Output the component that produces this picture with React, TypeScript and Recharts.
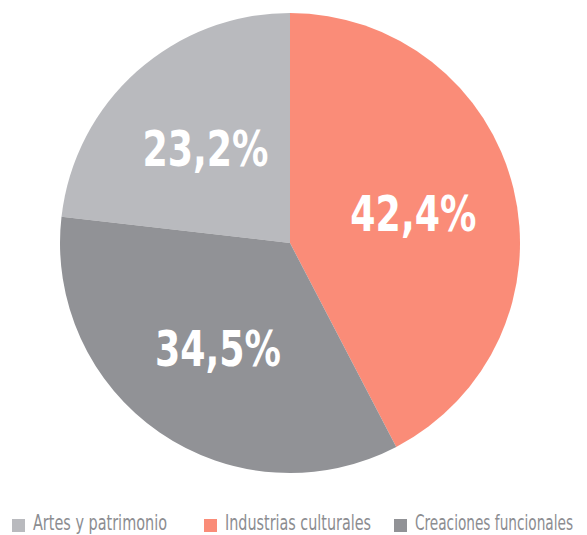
import React from "react";
import { PieChart, Pie, Cell, Legend } from "recharts";

const categories = ["Artes y patrimonio", "Industrias culturales", "Creaciones funcionales"];
const shares = [23.2, 42.4, 34.5];
const colors = ["#B9BABE", "#FA8C78", "#919296"];

const data = categories.map((name, i) => ({ name, value: shares[i] }));
const total = shares.reduce((a, b) => a + b, 0);
const startAngle = 90 + (shares[0] / total) * 360;
const RAD = Math.PI / 180;
const FONT = "'DejaVu Sans Condensed', 'DejaVu Sans', sans-serif";

const renderLabel = (props: any) => {
  const { cx, cy, midAngle, value } = props;
  const r = 127;
  const x = cx + r * Math.cos(-midAngle * RAD);
  const y = cy + r * Math.sin(-midAngle * RAD);
  return (
    <text
      x={x}
      y={y + 18}
      fill="#FFFFFF"
      textAnchor="middle"
      fontFamily={FONT}
      fontWeight="bold"
      fontSize={50}
      textLength={126}
      lengthAdjust="spacingAndGlyphs"
    >
      {value.toFixed(1).replace(".", ",") + "%"}
    </text>
  );
};

const legendX = [12, 204, 394];
const legendW = [134, 146, 158];

const renderLegend = () => (
  <svg width={587} height={30} style={{ display: "block" }}>
    {categories.map((c, i) => (
      <g key={c}>
        <rect x={legendX[i]} y={14} width={13} height={13} fill={colors[i]} />
        <text
          x={legendX[i] + 21}
          y={25}
          fill="#8C8D91"
          fontFamily={FONT}
          fontSize={22}
          textLength={legendW[i]}
          lengthAdjust="spacingAndGlyphs"
        >
          {c}
        </text>
      </g>
    ))}
  </svg>
);

export default function App() {
  return (
    <div style={{ position: "absolute", left: 0, top: 0, width: 587, height: 535, background: "#fff" }}>
      <PieChart width={587} height={535} margin={{ top: 0, right: 0, bottom: 0, left: 0 }}>
        <Pie
          data={data}
          dataKey="value"
          nameKey="name"
          cx={290}
          cy={243}
          outerRadius={230}
          innerRadius={0}
          startAngle={startAngle}
          endAngle={startAngle - 360}
          stroke="none"
          label={renderLabel}
          labelLine={false}
          isAnimationActive={false}
        >
          {data.map((d, i) => (
            <Cell key={d.name} fill={colors[i]} />
          ))}
        </Pie>
        <Legend
          verticalAlign="bottom"
          align="left"
          content={renderLegend}
          wrapperStyle={{ bottom: 0, left: 0, width: 587, height: 30 }}
        />
      </PieChart>
    </div>
  );
}
